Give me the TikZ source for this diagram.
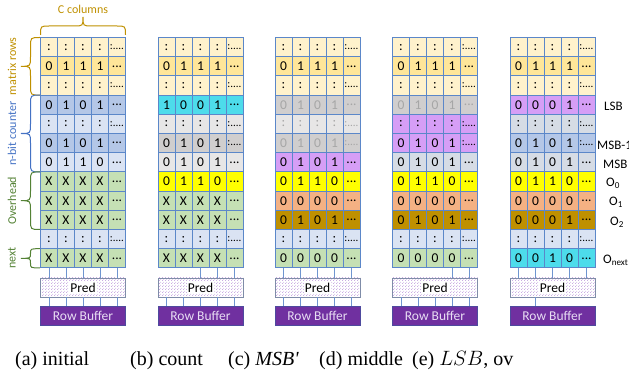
\documentclass[tikz,border=0pt]{standalone}
\usepackage{fontspec}
\setmainfont{Carlito}
\newfontfamily\capfont{Liberation Serif}
\usetikzlibrary{patterns}
\pgfdeclarepatternformonly{finedots}{\pgfpointorigin}{\pgfpoint{2.6pt}{2.6pt}}{\pgfpoint{2.6pt}{2.6pt}}{%
  \pgfpathcircle{\pgfpoint{0.65pt}{0.65pt}}{0.5pt}
  \pgfpathcircle{\pgfpoint{1.95pt}{1.95pt}}{0.5pt}
  \pgfusepath{fill}}
\definecolor{ly}{HTML}{FFF2CC}
\definecolor{yo}{HTML}{FFE699}
\definecolor{mb}{HTML}{B4C7E7}
\definecolor{lb}{HTML}{DAE3F3}
\definecolor{gr}{HTML}{C5E0B4}
\definecolor{cy}{HTML}{4DDCEB}
\definecolor{lg}{HTML}{E7E6E6}
\definecolor{dg}{HTML}{D0CECE}
\definecolor{yy}{HTML}{FFFF00}
\definecolor{sa}{HTML}{F4B183}
\definecolor{go}{HTML}{BF9000}
\definecolor{pu}{HTML}{D69EF6}
\definecolor{bg}{HTML}{D6DCE5}
\definecolor{fade}{HTML}{A6A6A6}
\definecolor{cellline}{HTML}{5B87C9}
\definecolor{connc}{HTML}{6F95D0}
\definecolor{predline}{HTML}{7F8CA8}
\definecolor{predpat}{HTML}{B890D8}
\definecolor{rbfill}{HTML}{7030A0}
\definecolor{rbline}{HTML}{4E4A9E}
\definecolor{rbtext}{HTML}{E8DDF3}
\definecolor{braceblue}{HTML}{4472C4}
\definecolor{bracegreen}{HTML}{548235}
\newcommand\ed{...}
\newcommand\cd{{\fontsize{11}{12}\selectfont:....}}
\newcommand\mrow[6]{%
  \foreach \d [count=\k] in {#5}{%
    \node[cell, fill=#3, text=#4] (#1-#2-\k) at ({(\k-0.5)*17}, {37.5+(#2-0.5)*19.2}) {\d};
  }
  \node[cell, fill=#3, text=#4] (#1-#2-5) at ({4.5*17}, {37.5+(#2-0.5)*19.2}) {#6};
}
\newcommand\myvbrace[5]{% xr, y1, y2, w, color
  \pgfmathsetmacro\bxm{#1-#4/2}
  \pgfmathsetmacro\bxt{#1-#4}
  \pgfmathsetmacro\bym{(#2+#3)/2}
  \pgfmathsetmacro\bc{min(#4/2,(#3-#2)/4)}
  \draw[#5, line width=1pt] (#1,#2) .. controls (\bxm,#2) .. (\bxm,#2+\bc) -- (\bxm,\bym-\bc)
     .. controls (\bxm,\bym) .. (\bxt,\bym) .. controls (\bxm,\bym) .. (\bxm,\bym+\bc)
     -- (\bxm,#3-\bc) .. controls (\bxm,#3) .. (#1,#3);
}
\newcommand\myhbrace[5]{% yb, x1, x2, h, color
  \pgfmathsetmacro\bym{#1-#4/2}
  \pgfmathsetmacro\byt{#1-#4}
  \pgfmathsetmacro\bxm{(#2+#3)/2}
  \pgfmathsetmacro\bc{min(#4/2,(#3-#2)/4)}
  \draw[#5, line width=1pt] (#2,#1) .. controls (#2,\bym) .. (#2+\bc,\bym) -- (\bxm-\bc,\bym)
     .. controls (\bxm,\bym) .. (\bxm,\byt) .. controls (\bxm,\bym) .. (\bxm+\bc,\bym)
     -- (#3-\bc,\bym) .. controls (#3,\bym) .. (#3,#1);
}
\begin{document}
\begin{tikzpicture}[x=1pt,y=-1pt,
  cell/.style={draw=cellline, line width=0.8pt, minimum width=17pt, minimum height=19.2pt,
    inner sep=0pt, font=\fontsize{13.5}{14}\selectfont},
  predbox/.style={draw=predline, line width=0.8pt, minimum width=85pt, minimum height=19pt,
    inner sep=0pt, preaction={fill=white}, pattern=finedots, pattern color=predpat,
    font=\fontsize{13.5}{14}\selectfont},
  rbbox/.style={draw=rbline, line width=0.8pt, fill=rbfill, text=rbtext, minimum width=85pt,
    minimum height=19pt, inner sep=0pt, font=\fontsize{13.5}{14}\selectfont},
  conn/.style={draw=connc, line width=0.9pt},
  sidelbl/.style={font=\fontsize{12}{13}\selectfont, rotate=90},
  rlbl/.style={font=\fontsize{13}{14}\selectfont, anchor=west, inner sep=0pt},
  captxt/.style={font=\capfont\fontsize{20}{22}\selectfont, anchor=base west, inner sep=0pt}]
\useasboundingbox (0,0) rectangle (629,379);
\clip (0,0) rectangle (629,379);

% ---------- panel (a)
\begin{scope}[xshift=40.5pt]
\mrow{a}{1}{ly}{black}{:,:,:,:}{\cd}
\mrow{a}{2}{yo}{black}{0,1,1,1}{\ed}
\mrow{a}{3}{ly}{black}{:,:,:,:}{\cd}
\mrow{a}{4}{mb}{black}{0,1,0,1}{\ed}
\mrow{a}{5}{lb}{black}{:,:,:,:}{\cd}
\mrow{a}{6}{mb}{black}{0,1,0,1}{\ed}
\mrow{a}{7}{lb}{black}{0,1,1,0}{\ed}
\mrow{a}{8}{gr}{black}{X,X,X,X}{\ed}
\mrow{a}{9}{gr}{black}{X,X,X,X}{\ed}
\mrow{a}{10}{gr}{black}{X,X,X,X}{\ed}
\mrow{a}{11}{lb}{black}{:,:,:,:}{\cd}
\mrow{a}{12}{gr}{black}{X,X,X,X}{\ed}
\node[predbox] (a-pred) at (42.5,287.5) {\setlength{\fboxsep}{1pt}\colorbox{white}{Pred}};
\node[rbbox] (a-rb) at (42.5,315.5) {Row Buffer};
\end{scope}
\foreach \k in {1,...,5} \draw[conn] (a-12-\k.south) -- (a-12-\k.south |- a-pred.north);
\foreach \k in {1,...,5} \draw[conn] (a-12-\k.south |- a-pred.south) -- (a-12-\k.south |- a-rb.north);

% ---------- panel (b)
\begin{scope}[xshift=158pt]
\mrow{b}{1}{ly}{black}{:,:,:,:}{\cd}
\mrow{b}{2}{yo}{black}{0,1,1,1}{\ed}
\mrow{b}{3}{ly}{black}{:,:,:,:}{\cd}
\mrow{b}{4}{cy}{black}{1,0,0,1}{\ed}
\mrow{b}{5}{lg}{black}{:,:,:,:}{\cd}
\mrow{b}{6}{dg}{black}{0,1,0,1}{\cd}
\mrow{b}{7}{lg}{black}{0,1,0,1}{\ed}
\mrow{b}{8}{yy}{black}{0,1,1,0}{\ed}
\mrow{b}{9}{gr}{black}{X,X,X,X}{\ed}
\mrow{b}{10}{gr}{black}{X,X,X,X}{\ed}
\mrow{b}{11}{lb}{black}{:,:,:,:}{\cd}
\mrow{b}{12}{gr}{black}{X,X,X,X}{\ed}
\node[predbox] (b-pred) at (42.5,287.5) {\setlength{\fboxsep}{1pt}\colorbox{white}{Pred}};
\node[rbbox] (b-rb) at (42.5,315.5) {Row Buffer};
\end{scope}
\foreach \k in {3,4,5} \draw[conn] (b-12-\k.south) -- (b-12-\k.south |- b-pred.north);
\foreach \k in {1,...,5} \draw[conn] (b-12-\k.south |- b-pred.south) -- (b-12-\k.south |- b-rb.north);

% ---------- panel (c)
\begin{scope}[xshift=275pt]
\mrow{c}{1}{ly}{black}{:,:,:,:}{\cd}
\mrow{c}{2}{yo}{black}{0,1,1,1}{\ed}
\mrow{c}{3}{ly}{black}{:,:,:,:}{\cd}
\mrow{c}{4}{dg}{fade}{0,1,0,1}{\ed}
\mrow{c}{5}{lg}{fade}{:,:,:,:}{\cd}
\mrow{c}{6}{dg}{fade}{0,1,0,1}{\cd}
\mrow{c}{7}{pu}{black}{0,1,0,1}{\ed}
\mrow{c}{8}{yy}{black}{0,1,1,0}{\ed}
\mrow{c}{9}{sa}{black}{0,0,0,0}{\ed}
\mrow{c}{10}{go}{black}{0,1,0,1}{\ed}
\mrow{c}{11}{lb}{black}{:,:,:,:}{\cd}
\mrow{c}{12}{gr}{black}{0,0,0,0}{\ed}
\node[predbox] (c-pred) at (42.5,287.5) {\setlength{\fboxsep}{1pt}\colorbox{white}{Pred}};
\node[rbbox] (c-rb) at (42.5,315.5) {Row Buffer};
\end{scope}
\foreach \k in {1,...,5} \draw[conn] (c-12-\k.south) -- (c-12-\k.south |- c-pred.north);
\foreach \k in {1,...,5} \draw[conn] (c-12-\k.south |- c-pred.south) -- (c-12-\k.south |- c-rb.north);

% ---------- panel (d)
\begin{scope}[xshift=392.5pt]
\mrow{d}{1}{ly}{black}{:,:,:,:}{\cd}
\mrow{d}{2}{yo}{black}{0,1,1,1}{\ed}
\mrow{d}{3}{ly}{black}{:,:,:,:}{\cd}
\mrow{d}{4}{dg}{fade}{0,1,0,1}{\ed}
\mrow{d}{5}{pu}{black}{:,:,:,:}{\cd}
\mrow{d}{6}{pu}{black}{0,1,0,1}{\cd}
\mrow{d}{7}{bg}{black}{0,1,0,1}{\ed}
\mrow{d}{8}{yy}{black}{0,1,1,0}{\ed}
\mrow{d}{9}{sa}{black}{0,0,0,0}{\ed}
\mrow{d}{10}{go}{black}{0,1,0,1}{\ed}
\mrow{d}{11}{lb}{black}{:,:,:,:}{\cd}
\mrow{d}{12}{gr}{black}{0,0,0,0}{\ed}
\node[predbox] (d-pred) at (42.5,287.5) {\setlength{\fboxsep}{1pt}\colorbox{white}{Pred}};
\node[rbbox] (d-rb) at (42.5,315.5) {Row Buffer};
\end{scope}
\foreach \k in {4,5} \draw[conn] (d-12-\k.south) -- (d-12-\k.south |- d-pred.north);
\foreach \k in {1,...,5} \draw[conn] (d-12-\k.south |- d-pred.south) -- (d-12-\k.south |- d-rb.north);

% ---------- panel (e)
\begin{scope}[xshift=510pt]
\mrow{e}{1}{ly}{black}{:,:,:,:}{\cd}
\mrow{e}{2}{yo}{black}{0,1,1,1}{\ed}
\mrow{e}{3}{ly}{black}{:,:,:,:}{\cd}
\mrow{e}{4}{pu}{black}{0,0,0,1}{\ed}
\mrow{e}{5}{bg}{black}{:,:,:,:}{\cd}
\mrow{e}{6}{mb}{black}{0,1,0,1}{\cd}
\mrow{e}{7}{bg}{black}{0,1,0,1}{\ed}
\mrow{e}{8}{yy}{black}{0,1,1,0}{\ed}
\mrow{e}{9}{sa}{black}{0,0,0,0}{\ed}
\mrow{e}{10}{go}{black}{0,0,0,1}{\ed}
\mrow{e}{11}{lb}{black}{:,:,:,:}{\cd}
\mrow{e}{12}{cy}{black}{0,0,1,0}{\ed}
\node[predbox] (e-pred) at (42.5,287.5) {\setlength{\fboxsep}{1pt}\colorbox{white}{Pred}};
\node[rbbox] (e-rb) at (42.5,315.5) {Row Buffer};
\end{scope}
\foreach \k in {1,...,5} \draw[conn] (e-12-\k.south) -- (e-12-\k.south |- e-pred.north);
\draw[conn] (e-12-2.south |- e-pred.south) -- (e-12-2.south |- e-rb.north);

% right labels of (e)
\node[rlbl] (l-lsb) at (604,106) {LSB};
\node[rlbl] (l-msb1) at (597,145) {MSB-1};
\node[rlbl] (l-msb) at (603,164) {MSB};
\node[rlbl] (l-o0) at (606,183) {O\textsubscript{0}};
\node[rlbl] (l-o1) at (609,202.5) {O\textsubscript{1}};
\node[rlbl] (l-o2) at (610,222) {O\textsubscript{2}};
\node[rlbl] (l-on) at (603,260) {O\textsubscript{next}};

% braces and labels of (a)
\myhbrace{35}{40.5}{125.5}{18}{go}
\node[font=\fontsize{12}{13}\selectfont, text=go] (l-ccol) at (83,9) {C columns};
\myvbrace{40}{37.5}{95.1}{19}{go}
\node[sidelbl, text=go] (l-mat) at (12,66.3) {matrix rows};
\myvbrace{40}{95.1}{171.9}{19}{braceblue}
\node[sidelbl, text=braceblue] (l-cnt) at (12,133.5) {n-bit counter};
\myvbrace{40}{171.9}{229.5}{19}{bracegreen}
\node[sidelbl, text=bracegreen] (l-ovh) at (12,200.7) {Overhead};
\myvbrace{40}{248.7}{267.9}{19}{bracegreen}
\node[sidelbl, text=bracegreen] (l-nxt) at (12,258.3) {next};

% captions
\node[captxt] (cap-a) at (15,365) {(a) initial};
\node[captxt] (cap-b) at (130,365) {(b) count};
\node[captxt] (cap-c) at (228,365) {(c) \textit{MSB'}};
\node[captxt] (cap-d) at (319,365) {(d) middle};
\node[captxt] (cap-e) at (412,365) {(e) $LSB$, ov};
\end{tikzpicture}
\end{document}
